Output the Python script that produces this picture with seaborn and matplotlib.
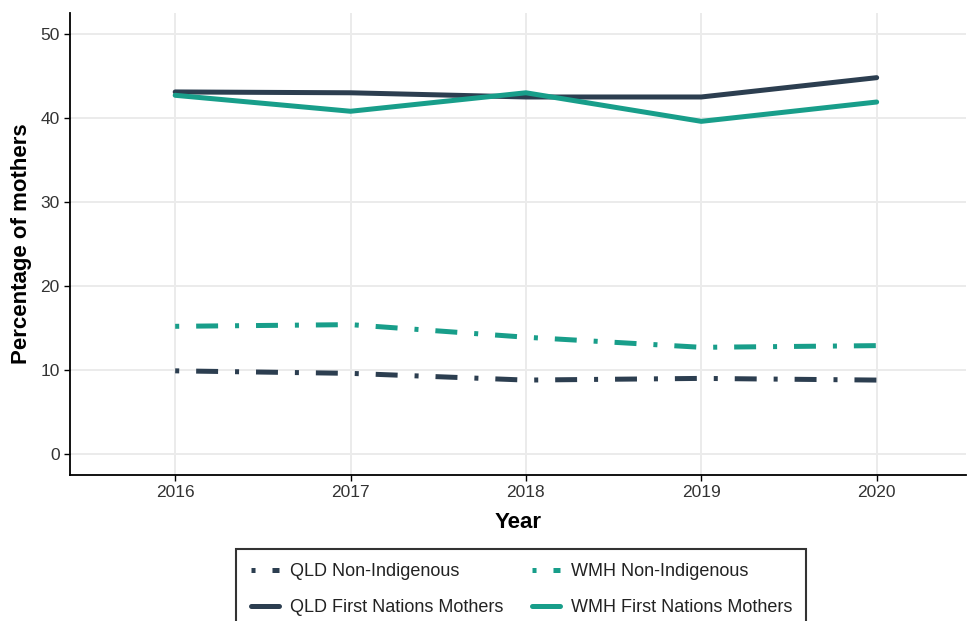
import matplotlib
matplotlib.use('Agg')
import matplotlib.pyplot as plt
from matplotlib.lines import Line2D
import seaborn as sns
import pandas as pd

# data
years = [2016, 2017, 2018, 2019, 2020]
qld_non_indigenous = [9.9, 9.6, 8.8, 9.0, 8.8]
wmh_non_indigenous = [15.2, 15.4, 13.9, 12.7, 12.9]
qld_first_nations = [43.1, 43.0, 42.5, 42.5, 44.8]
wmh_first_nations = [42.7, 40.8, 43.0, 39.6, 41.9]

series_names = ['QLD Non-Indigenous', 'QLD First Nations Mothers',
                'WMH Non-Indigenous', 'WMH First Nations Mothers']
series_values = [qld_non_indigenous, qld_first_nations,
                 wmh_non_indigenous, wmh_first_nations]

rows = []
for name, vals in zip(series_names, series_values):
    for yr, v in zip(years, vals):
        rows.append({'Year': yr, 'Value': v, 'Series': name})
df = pd.DataFrame(rows)

navy = '#2C3E50'
teal = '#189E8A'
palette = {
    'QLD Non-Indigenous': navy,
    'QLD First Nations Mothers': navy,
    'WMH Non-Indigenous': teal,
    'WMH First Nations Mothers': teal,
}
lw = 3.6
# dot, gap, dash, gap (in points)
dotdash = (0, (2.9, 12.2, 15.8, 12.2))
styles = {
    'QLD Non-Indigenous': dotdash,
    'QLD First Nations Mothers': '-',
    'WMH Non-Indigenous': dotdash,
    'WMH First Nations Mothers': '-',
}

sns.set_theme(style='white')
plt.rcParams['font.family'] = ['Liberation Sans', 'DejaVu Sans']
plt.rcParams['lines.scale_dashes'] = False

fig = plt.figure(figsize=(9.69, 6.21), dpi=100)
ax = fig.add_axes([0.0722, 0.2351, 0.9248, 0.744])

for name in series_names:
    sub = df[df['Series'] == name]
    sns.lineplot(data=sub, x='Year', y='Value', color=palette[name],
                 linewidth=lw, linestyle=styles[name], ax=ax, legend=False)

ax.set_xlim(2015.4, 2020.51)
ax.set_ylim(-2.5, 52.5)
ax.set_xticks(years)
ax.set_yticks([0, 10, 20, 30, 40, 50])
ax.grid(True, color='#EBEBEB', linewidth=1.4)
ax.set_axisbelow(True)

for side in ['top', 'right']:
    ax.spines[side].set_visible(False)
for side in ['left', 'bottom']:
    ax.spines[side].set_color('black')
    ax.spines[side].set_linewidth(1.3)

ax.tick_params(axis='both', which='both', direction='out', length=4,
               width=1, color='black', labelsize=12.5, labelcolor='#333333',
               left=True, bottom=True)
ax.set_xlabel('Year', fontsize=16, fontweight='bold', color='black', labelpad=8)
ax.set_ylabel('Percentage of mothers', fontsize=16, fontweight='bold',
              color='black', labelpad=6)

# legend (two columns, drawn below the plot and clipped at the bottom)
handles = [Line2D([], [], color=palette[n], linewidth=lw, linestyle=styles[n])
           for n in series_names]
leg = fig.legend(handles, series_names, ncol=2, loc='upper center',
                 bbox_to_anchor=(0.538, 0.116), frameon=True, fancybox=False,
                 fontsize=13, handlelength=1.55, handletextpad=0.6,
                 columnspacing=1.6, labelspacing=1.05, borderpad=0.8,
                 borderaxespad=0)
leg.get_frame().set_edgecolor('black')
leg.get_frame().set_linewidth(1.5)
for t in leg.get_texts():
    t.set_color('#222222')

fig.savefig('out.png', dpi=100)
